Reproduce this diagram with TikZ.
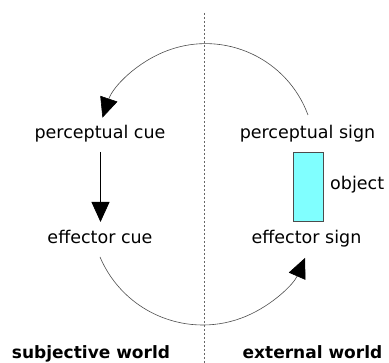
\documentclass[tikz,border=0pt]{standalone}
\usepackage{fontspec}
\setmainfont{DejaVu Sans}
\usetikzlibrary{arrows.meta}
\definecolor{objcyan}{RGB}{128,255,255}
\begin{document}
\begin{tikzpicture}[x=1pt,y=1pt,
  lbl/.style={anchor=base, inner sep=0pt, font=\fontsize{17.5}{20}\selectfont},
  worldlbl/.style={anchor=base, inner sep=0pt, font=\fontsize{17}{20}\selectfont\bfseries},
  arcline/.style={draw=black!70, line width=0.6pt},
  bigtip/.style={-{Triangle[length=20pt,width=18pt,color=black]}},
  objbox/.style={draw=black!70, line width=0.8pt, fill=objcyan, minimum width=30pt, minimum height=69pt, inner sep=0pt},
  divider/.style={draw=black!60, line width=0.6pt, dash pattern=on 2pt off 2pt}
]
\useasboundingbox (0,0) rectangle (389,363);
% divider
\coordinate (dtop) at (204,350);
\coordinate (dbot) at (204,0);
\draw[divider] (dtop) -- (dbot);
% labels
\node[lbl] (pc) at (100,224) {perceptual cue};
\node[lbl] (ps) at (307.5,224) {perceptual sign};
\node[lbl] (ec) at (100,119) {effector cue};
\node[lbl] (es) at (306.5,119) {effector sign};
\node[objbox] (box) at (308,176.5) {};
\node[lbl, anchor=base west] (objlbl) at (330,173) {object};
\node[worldlbl] (sw) at (91,4.5) {subjective world};
\node[worldlbl] (ew) at (312.5,4.5) {external world};
% connectors
\coordinate (topstart) at (308,248);
\draw[arcline, bigtip] (topstart) arc[start angle=20.2, end angle=161.3, radius=109];
\coordinate (botstart) at (100,106);
\draw[arcline, bigtip] (botstart) arc[start angle=203, end angle=336.5, radius=111.6];
\coordinate (vstart) at (100.5,211);
\coordinate (vend) at (100.5,141);
\draw[black, line width=0.8pt, bigtip] (vstart) -- (vend);
\end{tikzpicture}
\end{document}
